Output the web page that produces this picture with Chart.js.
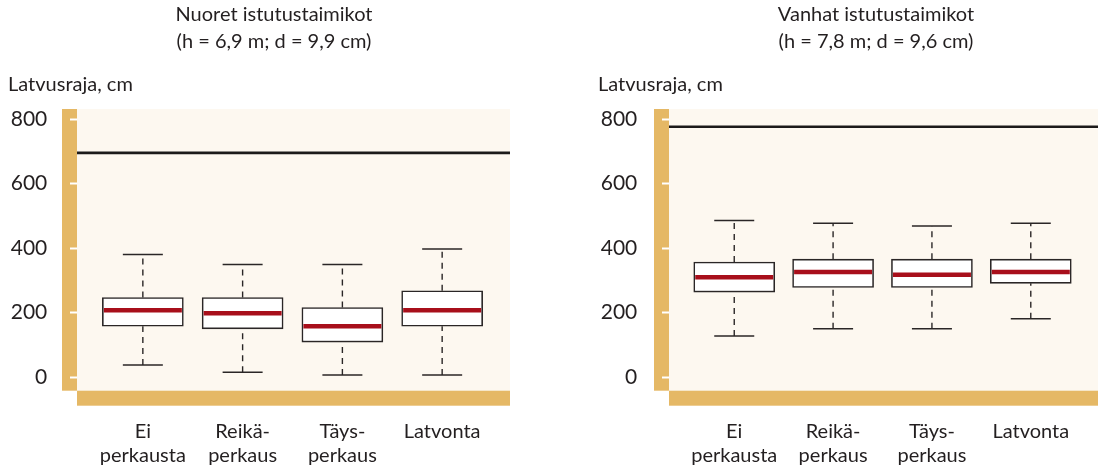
<!DOCTYPE html>
<html>
<head>
<meta charset="utf-8">
<script src="https://cdn.jsdelivr.net/npm/chart.js@4"></script>
<style>
  html, body { margin: 0; padding: 0; background: #fff; width: 1099px; height: 470px; overflow: hidden; }
  canvas { position: absolute; top: 0; }
  #young { left: 0; }
  #old { left: 590px; }
</style>
</head>
<body>
<canvas id="young" width="549" height="470"></canvas>
<canvas id="old" width="509" height="470"></canvas>
<script>
// Treatments (x categories) and y-axis ticks
const categories = [['Ei', 'perkausta'], ['Reikä-', 'perkaus'], ['Täys-', 'perkaus'], ['Latvonta']];
const yTicks = [0, 200, 400, 600, 800];

// Young plantations: crown base height, cm
const youngTitle = ['Nuoret istutustaimikot', '(h = 6,9 m; d = 9,9 cm)'];
const youngMin    = [38, 16, 7, 7];
const youngQ1     = [158, 150, 109, 158];
const youngMedian = [208, 198, 158, 208];
const youngQ3     = [247, 247, 216, 268];
const youngMax    = [380, 349, 349, 397];
const youngHeight = 695;

// Old plantations: crown base height, cm
const oldTitle = ['Vanhat istutustaimikot', '(h = 7,8 m; d = 9,6 cm)'];
const oldMin    = [128, 150, 150, 181];
const oldQ1     = [264, 278, 278, 291];
const oldMedian = [310, 326, 318, 326];
const oldQ3     = [357, 366, 366, 366];
const oldMax    = [486, 477, 469, 477];
const oldHeight = 776;

const unitLabel = 'Latvusraja, cm';

const FONT = "Lato, 'Open Sans', sans-serif";
const TEXT = '#231f20';
const GOLD = '#e5b865';
const CREAM = '#fdf8f0';
const RED = '#a80f1b';
const INK = '#2a2626';
const X_MIN = 0.34, X_MAX = 4.68;

// Cream plot area, gold axis bands, panel heading and the unit label above the y axis
const frame = {
  id: 'frame',
  beforeDraw(chart) {
    const { ctx, chartArea: a } = chart;
    ctx.save();
    ctx.fillStyle = CREAM;
    ctx.fillRect(a.left, a.top, a.right - a.left, a.bottom - a.top);
    ctx.fillStyle = GOLD;
    ctx.fillRect(a.left - 15, a.top, 15, a.bottom - a.top);
    ctx.fillRect(a.left, a.bottom, a.right - a.left, 15);
    ctx.restore();
  },
  afterDraw(chart, args, opts) {
    const { ctx } = chart;
    ctx.save();
    ctx.font = '20px ' + FONT;
    ctx.fillStyle = TEXT;
    ctx.textAlign = 'center';
    ctx.textBaseline = 'middle';
    opts.heading.forEach((line, i) => ctx.fillText(line, opts.headingX, 15 + i * 26.7));
    ctx.textAlign = 'left';
    ctx.textBaseline = 'alphabetic';
    ctx.fillText(unitLabel, 8, 90.5);
    ctx.restore();
  }
};

function boxChart(id, title, s, pad) {
  const xs = categories.map((c, i) => i + 1);
  const whiskers = [];
  xs.forEach((x, i) => {
    whiskers.push({ x, y: s.min[i] }, { x, y: s.q1[i] }, { x, y: null },
                  { x, y: s.q3[i] }, { x, y: s.max[i] }, { x, y: null });
  });
  const caps = xs.flatMap((x, i) => [{ x, y: s.min[i] }, { x, y: s.max[i] }]);

  return new Chart(document.getElementById(id), {
    type: 'bar',
    data: {
      datasets: [
        { // medians
          type: 'scatter', order: 0,
          data: xs.map((x, i) => ({ x, y: s.median[i] })),
          pointStyle: 'line', pointRadius: 39, borderColor: RED, borderWidth: 4.5
        },
        { // boxes from Q1 to Q3
          type: 'bar', order: 1,
          data: xs.map((x, i) => ({ x, y: [s.q1[i], s.q3[i]] })),
          backgroundColor: '#ffffff', borderColor: INK, borderWidth: 1.6,
          borderSkipped: false, barThickness: 81
        },
        { // dashed whiskers
          type: 'line', order: 2, data: whiskers, spanGaps: false,
          borderColor: INK, borderWidth: 1.4, borderDash: [6, 5], pointRadius: 0
        },
        { // whisker caps
          type: 'scatter', order: 2, data: caps,
          pointStyle: 'line', pointRadius: 20, borderColor: INK, borderWidth: 1.5
        },
        { // mean tree height
          type: 'line', order: 3,
          data: [{ x: X_MIN, y: s.height }, { x: X_MAX, y: s.height }],
          borderColor: '#1c1a1a', borderWidth: 2.6, pointRadius: 0
        }
      ]
    },
    options: {
      responsive: false,
      animation: false,
      events: [],
      layout: { autoPadding: false, padding: { left: 0, right: pad.right, top: 109, bottom: 0 } },
      plugins: {
        legend: { display: false },
        tooltip: { enabled: false },
        title: { display: false },
        frame: { heading: title, headingX: pad.headingX }
      },
      scales: {
        x: {
          type: 'linear', min: X_MIN, max: X_MAX, offset: false,
          afterBuildTicks: sc => { sc.ticks = xs.map(v => ({ value: v })); },
          afterFit: sc => { sc.height = 79.3; sc.paddingLeft = 0; sc.paddingRight = 0; },
          grid: { display: false, drawTicks: false },
          border: { display: false },
          ticks: {
            color: TEXT, padding: 29.5, maxRotation: 0, autoSkip: false,
            font: { family: FONT, size: 20, lineHeight: 23.3 / 20 },
            callback: v => categories[v - 1]
          }
        },
        y: {
          type: 'linear', min: -41.5, max: 831,
          afterBuildTicks: sc => { sc.ticks = yTicks.map(v => ({ value: v })); },
          afterFit: sc => { sc.width = pad.axis; sc.paddingTop = 0; sc.paddingBottom = 0; },
          grid: { display: true, drawOnChartArea: false, drawTicks: true, tickLength: 7,
                  tickColor: '#ffffff', tickWidth: 2 },
          border: { display: false },
          ticks: { color: TEXT, padding: pad.tick, font: { family: FONT, size: 21 } }
        }
      }
    },
    plugins: [frame]
  });
}

boxChart('young', youngTitle,
  { min: youngMin, q1: youngQ1, median: youngMedian, q3: youngQ3, max: youngMax, height: youngHeight },
  { right: 39, axis: 77, tick: 22.7, headingX: 274 });
boxChart('old', oldTitle,
  { min: oldMin, q1: oldQ1, median: oldMedian, q3: oldQ3, max: oldMax, height: oldHeight },
  { right: 1, axis: 79, tick: 24.7, headingX: 286 });
</script>
</body>
</html>
